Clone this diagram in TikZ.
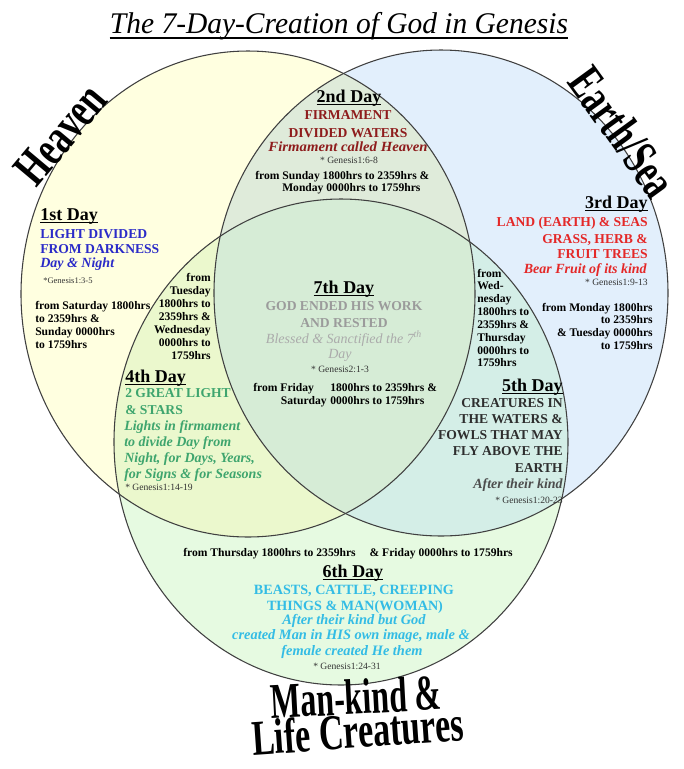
\documentclass[tikz,border=0pt]{standalone}
\usepackage{fontspec}
\setmainfont{Liberation Serif}
\usepackage{graphicx}
\newlength\pxu
\setlength\pxu{0.75pt}
\newcommand\hdul[1]{\setbox0\hbox{#1}\rlap{\rule[-2.4pt]{\wd0}{0.9pt}}\box0}
\definecolor{cY}{HTML}{FFFFE0}
\definecolor{cB}{HTML}{E2EFFC}
\definecolor{cG}{HTML}{E6FAE1}
\definecolor{cYB}{HTML}{DFEBDA}
\definecolor{cYG}{HTML}{EBF8CD}
\definecolor{cBG}{HTML}{D4EEE7}
\definecolor{cC}{HTML}{D6ECD6}
\definecolor{blueA}{HTML}{2B2BC8}
\definecolor{redB}{HTML}{8E1C1C}
\definecolor{redC}{HTML}{E42828}
\definecolor{greyG}{HTML}{9B9B9B}
\definecolor{greyI}{HTML}{ABABAB}
\definecolor{greenD}{HTML}{3EA56E}
\definecolor{darkE}{HTML}{2E2E2E}
\definecolor{cyanF}{HTML}{33BCE5}
\def\Ye{(248,294) ellipse [x radius=170.25pt, y radius=182.25pt]}
\def\Bl{(441,293) ellipse [x radius=170.25pt, y radius=182.25pt]}
\def\Gr{(341,442) ellipse [x radius=170.25pt, y radius=182.25pt]}
\begin{document}
\begin{tikzpicture}[x=0.75pt,y=-0.75pt,
  ttl/.style={font=\fontsize{22.5}{24}\selectfont\itshape, inner sep=0pt},
  hd/.style={font=\fontsize{13.5}{15}\selectfont\bfseries, inner sep=0pt},
  capt/.style={font=\fontsize{10.2}{12}\selectfont\bfseries, inner sep=0pt},
  itl/.style={font=\fontsize{10.5}{12}\selectfont\bfseries\itshape, inner sep=0pt},
  tm/.style={font=\fontsize{8.7}{10}\selectfont\bfseries, inner sep=0pt},
  gen/.style={font=\fontsize{7.2}{8}\selectfont, text=black!80, inner sep=0pt},
  big/.style={font=\fontsize{37.5}{40}\selectfont\bfseries, inner sep=0pt},
  vennline/.style={draw=black!75, line width=0.8pt}]
\useasboundingbox (0,0) rectangle (684,769);
\fill[white] (0,0) rectangle (684,769);
% --- regions
\fill[cY] \Ye;
\fill[cB] \Bl;
\fill[cG] \Gr;
\begin{scope}\clip \Ye; \fill[cYB] \Bl;\end{scope}
\begin{scope}\clip \Ye; \fill[cYG] \Gr;\end{scope}
\begin{scope}\clip \Bl; \fill[cBG] \Gr;\end{scope}
\begin{scope}\clip \Ye; \clip \Bl; \fill[cC] \Gr;\end{scope}
\path[vennline] \Ye;
\path[vennline] \Bl;
\path[vennline] \Gr;
% --- title
\node[ttl, anchor=base] (title) at (339,33) {\resizebox{458\pxu}{\height}{The 7-Day-Creation of God in Genesis}};
\draw[line width=0.9pt] ([yshift=-3.75pt]title.base west) -- ([yshift=-3.75pt]title.base east);
% --- big labels
\node[big, anchor=base, rotate=50] (heaven) at (73,145) {\resizebox{114\pxu}{\height}{Heaven}};
\node[big, anchor=base, rotate=-54] (earth) at (609,142) {\resizebox{146\pxu}{\height}{Earth/Sea}};
\node[big, anchor=base, rotate=3] (mk1) at (357,714) {\resizebox{171\pxu}{\height}{Man-kind \&}};
\node[big, anchor=base, rotate=4] (mk2) at (359,748) {\resizebox{212\pxu}{\height}{Life Creatures}};
% --- 1st Day
\node[hd, anchor=base west] (d1h) at (40,220) {\hdul{1st Day}};
\node[capt, text=blueA, anchor=base west] (d1a) at (40,238) {LIGHT DIVIDED};
\node[capt, text=blueA, anchor=base west] (d1b) at (40,253) {FROM DARKNESS};
\node[itl, text=blueA, anchor=base west] (d1c) at (40,267) {Day \& Night};
\node[gen, font=\fontsize{6.4}{8}\selectfont, anchor=base west] (d1g) at (43,283) {*Genesis1:3-5};
\foreach \t [count=\i] in {from Saturday 1800hrs, to 2359hrs \&, Sunday 0000hrs, to 1759hrs}
  \node[tm, anchor=base west] (d1t\i) at (35,{309+13*(\i-1)}) {\t};
\foreach \t [count=\i] in {from, Tuesday, 1800hrs to, 2359hrs \&, Wednesday, 0000hrs to, 1759hrs}
  \node[tm, anchor=base east] (tu\i) at (211,{281+13*(\i-1)}) {\t};
% --- 2nd Day
\node[hd, anchor=base] (d2h) at (349,102) {\hdul{2nd Day}};
\node[capt, text=redB, anchor=base] (d2a) at (348,119) {FIRMAMENT};
\node[capt, text=redB, anchor=base] (d2b) at (348,137) {DIVIDED WATERS};
\node[itl, text=redB, anchor=base] (d2c) at (348,151) {\resizebox{159\pxu}{\height}{Firmament called Heaven}};
\node[gen, anchor=base] (d2g) at (349,163) {* Genesis1:6-8};
\node[tm, anchor=base west] (d2t1) at (255,179) {from Sunday 1800hrs to 2359hrs \&};
\node[tm, anchor=base west] (d2t2) at (282,191) {Monday 0000hrs to 1759hrs};
% --- 3rd Day
\node[hd, anchor=base east] (d3h) at (648,208) {\hdul{3rd Day}};
\node[capt, text=redC, anchor=base east] (d3a) at (648,226) {LAND (EARTH) \& SEAS};
\node[capt, text=redC, anchor=base east] (d3b) at (648,243) {GRASS, HERB \&};
\node[capt, text=redC, anchor=base east] (d3c) at (648,258) {FRUIT TREES};
\node[itl, text=redC, anchor=base east] (d3d) at (647,273) {Bear Fruit of its kind};
\node[gen, anchor=base east] (d3g) at (648,285) {* Genesis1:9-13};
\foreach \t [count=\i] in {from Monday 1800hrs, to 2359hrs, \& Tuesday 0000hrs, to 1759hrs}
  \node[tm, anchor=base east] (d3t\i) at (653,{311+12.7*(\i-1)}) {\t};
\foreach \t [count=\i] in {from, Wed-, nesday, 1800hrs to, 2359hrs \&, Thursday, 0000hrs to, 1759hrs}
  \node[tm, anchor=base west] (we\i) at (477,{277+12.85*(\i-1)}) {\t};
% --- 7th Day
\node[hd, anchor=base] (d7h) at (344,293) {\hdul{7th Day}};
\node[capt, text=greyG, anchor=base] (d7a) at (344,310) {GOD ENDED HIS WORK};
\node[capt, text=greyG, anchor=base] (d7b) at (344,327) {AND RESTED};
\node[font=\fontsize{10.5}{12}\selectfont\itshape, inner sep=0pt, text=greyI, anchor=base] (d7c) at (344,343) {Blessed \& Sanctified the 7\textsuperscript{th}};
\node[font=\fontsize{10.5}{12}\selectfont\itshape, inner sep=0pt, text=greyI, anchor=base] (d7d) at (340,358) {Day};
\node[gen, anchor=base] (d7g) at (340,372) {* Genesis2:1-3};
\node[tm, anchor=base west] (d7t1) at (253,391) {from Friday};
\node[tm, anchor=base west] (d7t2) at (330,391) {1800hrs to 2359hrs \&};
\node[tm, anchor=base east] (d7t3) at (327,404) {Saturday};
\node[tm, anchor=base west] (d7t4) at (330,404) {0000hrs to 1759hrs};
% --- 4th Day
\node[hd, anchor=base west] (d4h) at (125,382) {\hdul{4th Day}};
\node[capt, text=greenD, anchor=base west] (d4a) at (125,397) {2 GREAT LIGHT};
\node[capt, text=greenD, anchor=base west] (d4b) at (125,414) {\& STARS};
\foreach \t [count=\i] in {Lights in firmament, to divide Day from, {Night, for Days, Years,}, for Signs \& for Seasons}
  \node[itl, text=greenD, anchor=base west] (d4i\i) at (124,{430+16*(\i-1)}) {\t};
\node[gen, anchor=base west] (d4g) at (125,490) {* Genesis1:14-19};
% --- 5th Day
\node[hd, anchor=base east] (d5h) at (563,391) {\hdul{5th Day}};
\foreach \t [count=\i] in {CREATURES IN, THE WATERS \&, FOWLS THAT MAY, FLY ABOVE THE, EARTH}
  \node[capt, text=darkE, anchor=base east] (d5c\i) at (563,{407+16.25*(\i-1)}) {\t};
\node[itl, text=darkE!85, anchor=base east] (d5i) at (563,488) {After their kind};
\node[gen, anchor=base east] (d5g) at (563,503) {* Genesis1:20-23};
% --- 6th Day
\node[tm, anchor=base west] (d6t1) at (183,556) {from Thursday 1800hrs to 2359hrs};
\node[tm, anchor=base east] (d6t2) at (513,556) {\& Friday 0000hrs to 1759hrs};
\node[hd, anchor=base] (d6h) at (353,577) {\hdul{6th Day}};
\node[capt, font=\fontsize{10.6}{12}\selectfont\bfseries, text=cyanF, anchor=base] (d6a) at (354,594) {BEASTS, CATTLE, CREEPING};
\node[capt, font=\fontsize{10.6}{12}\selectfont\bfseries, text=cyanF, anchor=base] (d6b) at (355,610) {THINGS \& MAN(WOMAN)};
\node[itl, font=\fontsize{10.8}{12}\selectfont\bfseries\itshape, text=cyanF, anchor=base] (d6c) at (354,624) {After their kind but God};
\node[itl, font=\fontsize{10.8}{12}\selectfont\bfseries\itshape, text=cyanF, anchor=base] (d6d) at (351,639) {created Man in HIS own image, male \&};
\node[itl, font=\fontsize{10.8}{12}\selectfont\bfseries\itshape, text=cyanF, anchor=base] (d6e) at (352,655) {female created He them};
\node[gen, anchor=base] (d6g) at (347,669) {* Genesis1:24-31};
\end{tikzpicture}
\end{document}
